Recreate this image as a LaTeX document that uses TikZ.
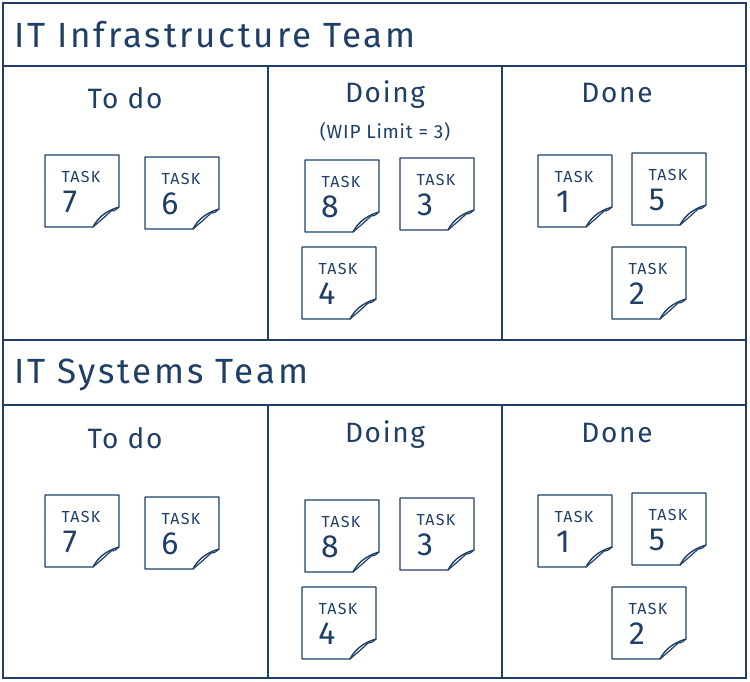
\documentclass[tikz,border=0pt]{standalone}
\usepackage{fontspec}
\setmainfont{Fira Sans}
\definecolor{ink}{HTML}{1F3F66}
\begin{document}
\begin{tikzpicture}[x=1pt,y=-1pt,line width=1.4pt,draw=ink,
  every node/.style={text=ink},
  head/.style={font=\fontsize{35}{40}\selectfont\addfontfeatures{LetterSpace=8},anchor=west},
  coltitle/.style={font=\fontsize{28}{32}\selectfont\addfontfeatures{LetterSpace=6}},
  tasktxt/.style={font=\fontsize{16}{18}\selectfont\addfontfeatures{LetterSpace=8}},
  numtxt/.style={font=\fontsize{32}{36}\selectfont},
  note/.pic={
    \draw[ink,line width=1.4pt,line join=round] (0,0) -- (74,0) -- (74,52) .. controls (60,56) and (52,64) .. (48,72) -- (0,72) -- cycle;
    \draw[ink,line width=1.2pt] (48,72) .. controls (55,66) and (62,60) .. (66,56) .. controls (70,56) and (72,54) .. (74,52);
    \node[tasktxt] (-t) at (36,22) {TASK};
  }]
\useasboundingbox (0,0) rectangle (750,681);
\fill[white] (0,0) rectangle (750,681);
\draw[ink] (3,3) rectangle (746,678);
\draw[ink] (3,66) -- (746,66);
\draw[ink] (3,340) -- (746,340);
\draw[ink] (3,405) -- (746,405);
\draw[ink] (268,66) -- (268,340) (502,66) -- (502,340);
\draw[ink] (268,405) -- (268,678) (502,405) -- (502,678);
\node[head] (t1) at (10,35) {IT Infrastructure Team};
\node[head] (t2) at (10,375) {IT Systems Team};
\foreach \dy/\nm in {0/a,340/b}{
  \node[coltitle] (todo\nm) at (125,98+\dy) {To do};
  \node[coltitle] (doing\nm) at (385,95+\dy) {Doing};
  \node[coltitle] (done\nm) at (617,93+\dy) {Done};
  \foreach \x/\y/\n in {45/155/7,145/157/6,305/160/8,400/158/3,302/247/4,538/155/1,632/153/5,612/247/2}{
    \pic (n\nm\n) at (\x,\y+\dy) {note};
    \node[numtxt] (num\nm\n) at (\x+25,\y+\dy+47) {\n};
  }
}
\node[font=\fontsize{19}{22}\selectfont\addfontfeatures{LetterSpace=4}] (wip) at (385,132) {(WIP Limit = 3)};
\end{tikzpicture}
\end{document}
